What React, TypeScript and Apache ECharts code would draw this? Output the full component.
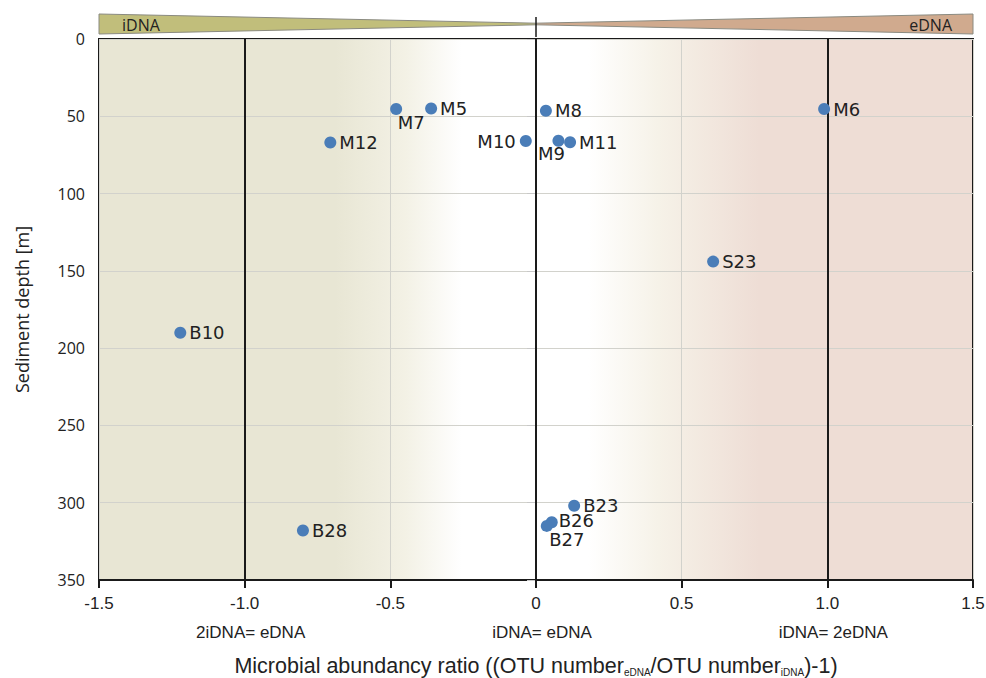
import React, { useEffect, useRef } from "react";
import * as echarts from "echarts";

// Sampling sites
const siteNames = ["M5", "M7", "M8", "M6", "M12", "M10", "M9", "M11", "S23", "B10", "B23", "B26", "B27", "B28"];
// Microbial abundancy ratio ((OTU eDNA / OTU iDNA) - 1)
const abundanceRatio = [-0.36, -0.48, 0.034, 0.989, -0.706, -0.035, 0.077, 0.117, 0.608, -1.221, 0.131, 0.054, 0.037, -0.8];
// Sediment depth in metres
const sedimentDepth = [45, 45.3, 46.4, 45.3, 67, 66, 65.8, 66.8, 144, 190, 302, 312.6, 315, 318];

// Reference lines and their captions under the axis
const refValues = [-1, 0, 1];
const refCaptions = ["2iDNA= eDNA", "iDNA= eDNA", "iDNA= 2eDNA"];

const xTicks = [-1.5, -1.0, -0.5, 0, 0.5, 1.0, 1.5];
const xTickLabels = ["-1.5", "-1.0", "-0.5", "0", "0.5", "1.0", "1.5"];

// Label placement per site
const labelPlacement: Record<string, any> = {
  M7: { position: "bottom", distance: -2 },
  M9: { position: "bottom", distance: -2 },
  M10: { position: "left", distance: 4 },
  B27: { position: "bottom", distance: -3 },
  B26: { position: "right", distance: 1 },
};
// Extra nudges applied after layout
const labelShift: Record<string, [number, number]> = {
  M7: [15, 0],
  M9: [-7, 0],
  B27: [20, 2],
  B26: [0, -2],
};

const GRID = { left: 99, right: 13, top: 39, bottom: 98 };
const NARROW = "Liberation Sans Narrow, Liberation Sans, sans-serif";

export default function App() {
  const ref = useRef<HTMLDivElement>(null);

  useEffect(() => {
    document.body.style.margin = "0";
    const chart = echarts.init(ref.current!, null, { renderer: "svg" });

    const data = siteNames.map((name, i) => {
      const p = labelPlacement[name];
      const item: any = { name, value: [abundanceRatio[i], sedimentDepth[i]] };
      if (p) item.label = p;
      return item;
    });

    const bgGradient = new echarts.graphic.LinearGradient(0, 0, 1, 0, [
      { offset: 0, color: "#e8e6d4" },
      { offset: 0.27, color: "#e8e6d4" },
      { offset: 0.35, color: "#f3f1e5" },
      { offset: 0.415, color: "#ffffff" },
      { offset: 0.56, color: "#ffffff" },
      { offset: 0.64, color: "#f6f2e8" },
      { offset: 0.755, color: "#eeddd5" },
      { offset: 1, color: "#eeddd5" },
    ]);

    chart.setOption({
      animation: false,
      grid: {
        ...GRID,
        outerBoundsMode: "none",
        containLabel: false,
        show: true,
        backgroundColor: bgGradient,
        borderColor: "#1a1a1a",
        borderWidth: 2,
        z: 0,
      },
      xAxis: [
        {
          type: "value",
          min: -1.5,
          max: 1.5,
          interval: 0.5,
          position: "bottom",
          axisLine: { show: true, onZero: false, lineStyle: { color: "#1a1a1a", width: 2 } },
          axisTick: { show: true, length: 8, lineStyle: { color: "#1a1a1a", width: 2 } },
          splitLine: { show: true, lineStyle: { color: "#d2d2cc", width: 1 } },
          axisLabel: {
            margin: 15,
            fontFamily: NARROW,
            fontSize: 17,
            color: "#222",
            formatter: (v: number) => {
              const i = xTicks.findIndex((t) => Math.abs(t - v) < 1e-9);
              return i >= 0 ? xTickLabels[i] : "";
            },
          },
          name:
            "{t|Microbial abundancy ratio ((OTU number}{s|eDNA}{t|/OTU number}{s|iDNA}{t|)-1)}",
          nameLocation: "middle",
          nameGap: 75,
          nameTextStyle: {
            rich: {
              t: { fontFamily: NARROW, fontSize: 21.5, color: "#222" },
              s: {
                fontFamily: NARROW,
                fontSize: 10,
                color: "#222",
                verticalAlign: "bottom",
                padding: [9, 0, 0, 0],
              },
            },
          },
        },
        {
          type: "value",
          min: -1.5,
          max: 1.5,
          position: "bottom",
          offset: 44,
          axisLine: { show: false },
          axisTick: { show: false },
          splitLine: { show: false },
          axisLabel: {
            customValues: refValues,
            fontFamily: NARROW,
            fontSize: 17,
            color: "#222",
            margin: 0,
            padding: [0, 0, 0, 12],
            formatter: (v: number) => {
              const i = refValues.findIndex((t) => Math.abs(t - v) < 1e-9);
              return i >= 0 ? refCaptions[i] : "";
            },
          },
        },
      ],
      yAxis: {
        type: "value",
        inverse: true,
        min: 0,
        max: 350,
        interval: 50,
        axisLine: { show: true, lineStyle: { color: "#1a1a1a", width: 2 } },
        axisTick: { show: true, length: 9, lineStyle: { color: "#c8c8c8", width: 1 } },
        splitLine: { show: true, lineStyle: { color: "#d2d2cc", width: 1 } },
        axisLabel: {
          margin: 14,
          fontFamily: "Open Sans, sans-serif",
          fontSize: 16,
          color: "#222",
        },
        name: "Sediment depth [m]",
        nameLocation: "middle",
        nameGap: 68,
        nameTextStyle: { fontFamily: "Open Sans, sans-serif", fontSize: 18, color: "#222" },
      },
      series: [
        {
          type: "scatter",
          xAxisIndex: 0,
          symbolSize: 12,
          itemStyle: { color: "#4a7db8", opacity: 1 },
          label: {
            show: true,
            position: "right",
            distance: 3,
            formatter: "{b}",
            fontFamily: "DejaVu Sans, sans-serif",
            fontSize: 18,
            color: "#222",
          },
          labelLayout: (params: any) => {
            const s = labelShift[siteNames[params.dataIndex]];
            return s ? { dx: s[0], dy: s[1] } : {};
          },
          data,
          markLine: {
            silent: true,
            symbol: "none",
            label: { show: false },
            lineStyle: { color: "#1a1a1a", width: 2, type: "solid" },
            data: refValues.map((v) => ({ xAxis: v })),
            z: 1,
          },
          z: 5,
        },
      ],
    });

    // Wedge indicator above the plot, anchored to the x scale
    const [xl, yTop] = chart.convertToPixel({ xAxisIndex: 0, yAxisIndex: 0 } as any, [-1.5, 0]) as number[];
    const [xc] = chart.convertToPixel({ xAxisIndex: 0, yAxisIndex: 0 } as any, [0, 0]) as number[];
    const [xr] = chart.convertToPixel({ xAxisIndex: 0, yAxisIndex: 0 } as any, [1.5, 0]) as number[];
    const top = yTop - 25;
    const bot = yTop - 5;
    const mid = (top + bot) / 2;

    chart.setOption({
      graphic: [
        {
          type: "polygon",
          shape: { points: [[xl, top], [xc, mid - 0.8], [xc, mid + 0.8], [xl, bot]] },
          style: { fill: "#c1be7b", stroke: "#8a8a80", lineWidth: 1 },
        },
        {
          type: "polygon",
          shape: { points: [[xr, top], [xc, mid - 0.8], [xc, mid + 0.8], [xr, bot]] },
          style: { fill: "#d0aa8e", stroke: "#8a8a80", lineWidth: 1 },
        },
        {
          type: "line",
          shape: { x1: xc, y1: top + 3, x2: xc, y2: bot + 3 },
          style: { stroke: "#1a1a1a", lineWidth: 1.5 },
        },
        {
          type: "text",
          x: xl + 23,
          y: mid + 1,
          style: {
            text: "iDNA",
            fontFamily: "Open Sans, sans-serif",
            fontSize: 16,
            fill: "#222",
            verticalAlign: "middle",
            align: "left",
          },
        },
        {
          type: "text",
          x: xr - 21,
          y: mid + 1,
          style: {
            text: "eDNA",
            fontFamily: "Open Sans, sans-serif",
            fontSize: 16,
            fill: "#222",
            verticalAlign: "middle",
            align: "right",
          },
        },
      ],
    });

    return () => chart.dispose();
  }, []);

  return <div ref={ref} style={{ width: 986, height: 678 }} />;
}
